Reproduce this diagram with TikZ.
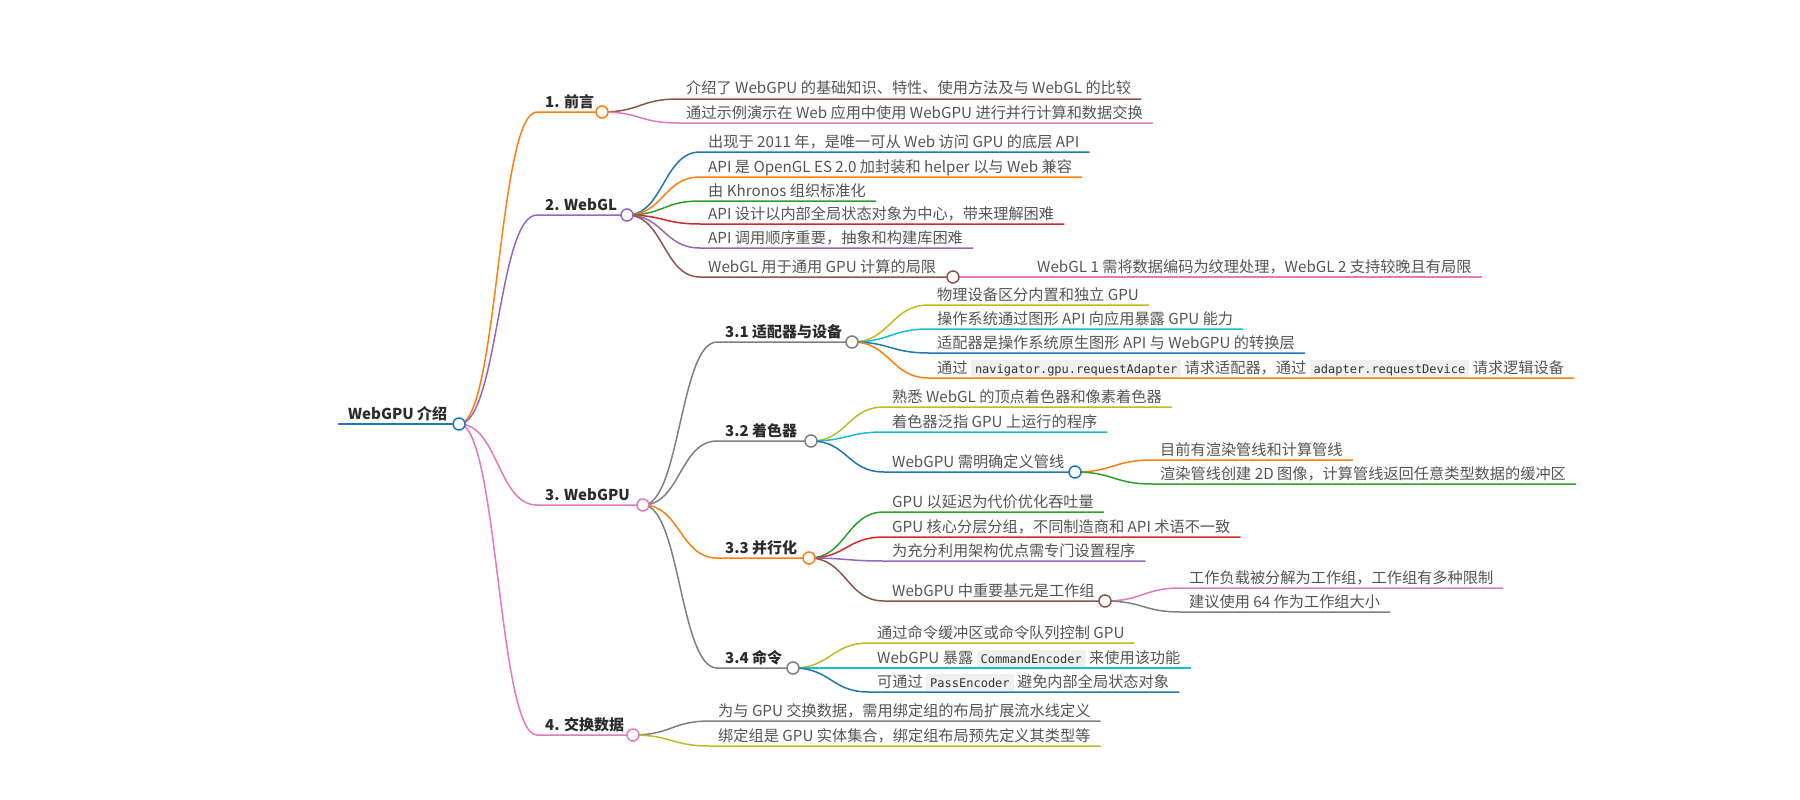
\documentclass[tikz,border=0pt]{standalone}
\usepackage{fontspec}
\setmainfont{Noto Sans CJK SC}
\newfontfamily\codefont{DejaVu Sans Mono}
\usetikzlibrary{calc}
\pgfdeclarelayer{bg}
\pgfdeclarelayer{paper}
\pgfsetlayers{paper,bg,main}
\definecolor{cblue}{HTML}{1F77B4}
\definecolor{corange}{HTML}{FF7F0E}
\definecolor{cgreen}{HTML}{2CA02C}
\definecolor{cred}{HTML}{D62728}
\definecolor{cpurple}{HTML}{9467BD}
\definecolor{cbrown}{HTML}{8C564B}
\definecolor{cpink}{HTML}{E377C2}
\definecolor{cgray}{HTML}{7F7F7F}
\definecolor{colive}{HTML}{BCBD22}
\definecolor{ccyan}{HTML}{17BECF}
\definecolor{leaftext}{HTML}{555555}
\definecolor{labeltext}{HTML}{2B2B2B}
\definecolor{codebg}{HTML}{F0F0F0}
\definecolor{codetext}{HTML}{333333}
\newcommand\leaffont{\fontsize{15.2}{18}\selectfont}
\newcommand\labelfont{\fontsize{15}{18}\selectfont\bfseries}
\newcommand\codesize{\codefont\fontsize{12}{14}\selectfont}
\newcommand\codesnip[1]{\setbox0=\hbox{\codesize #1}%
  \rlap{\color{codebg}\rule[-4pt]{\dimexpr\wd0+8pt\relax}{17pt}}\hspace{4pt}{\codesize\color{codetext}#1}\hspace{4pt}}
% #1 parent circle, #2 child start, #3 end point, #4 colour
\newcommand\mmlink[4]{\draw[edge,#4] let \p1=(#1.center), \p2=(#2) in
  (\p1) .. controls ({0.5*\x1+0.5*\x2},\y1) and ({0.5*\x1+0.5*\x2},\y2) .. (\p2) -- #3;}
\newcommand\leafend[2]{([xshift=10pt]#1.east |- #2)}
\begin{document}
\begin{tikzpicture}[x=1pt,y=-1pt,
  leaf/.style={anchor=base west, inner sep=0pt, text=leaftext, font=\leaffont},
  lbl/.style={anchor=base west, inner sep=0pt, text=labeltext, font=\labelfont},
  dot/.style={circle, draw, fill=white, minimum size=12pt, inner sep=0pt, line width=1.5pt},
  edge/.style={line width=1.5pt},
  rootedge/.style={line width=2.2pt}]
\useasboundingbox (0,0) rectangle (1800,800);
\begin{pgfonlayer}{paper}
\fill[white] (0,0) rectangle (1800,800);
\end{pgfonlayer}

% root
\node[lbl] (Rt) at (348,419) {WebGPU 介绍};
\coordinate (Rs) at (338,424);
\node[dot, draw=cblue] (R) at (459,424) {};

% depth 1
\node[lbl] (At) at (545,107) {1. 前言};
\coordinate (As) at (537,112);
\node[dot, draw=corange] (A) at (602,112) {};
\node[lbl] (Bt) at (545,210) {2. WebGL};
\coordinate (Bs) at (537,215);
\node[dot, draw=cpurple] (B) at (627,215) {};
\node[lbl] (Ct) at (545,500) {3. WebGPU};
\coordinate (Cs) at (537,505);
\node[dot, draw=cpink] (C) at (643,505) {};
\node[lbl] (Dt) at (545,730) {4. 交换数据};
\coordinate (Ds) at (537,735);
\node[dot, draw=cpink] (D) at (633,735) {};

% 1
\node[leaf] (A1t) at (686,94) {介绍了 WebGPU 的基础知识、特性、使用方法及与 WebGL 的比较};
\coordinate (A1s) at (678,99);
\node[leaf] (A2t) at (686,118) {通过示例演示在 Web 应用中使用 WebGPU 进行并行计算和数据交换};
\coordinate (A2s) at (678,123);

% 2
\node[leaf] (B1t) at (708,147) {出现于 2011 年，是唯一可从 Web 访问 GPU 的底层 API};
\coordinate (B1s) at (700,152);
\node[leaf] (B2t) at (708,172) {API 是 OpenGL ES 2.0 加封装和 helper 以与 Web 兼容};
\coordinate (B2s) at (700,177);
\node[leaf] (B3t) at (708,196) {由 Khronos 组织标准化};
\coordinate (B3s) at (700,201);
\node[leaf] (B4t) at (708,219) {API 设计以内部全局状态对象为中心，带来理解困难};
\coordinate (B4s) at (700,224);
\node[leaf] (B5t) at (708,243) {API 调用顺序重要，抽象和构建库困难};
\coordinate (B5s) at (700,248);
\node[leaf] (B6t) at (708,272) {WebGL 用于通用 GPU 计算的局限};
\coordinate (B6s) at (700,277);
\node[dot, draw=cbrown] (B6) at (953,277) {};
\node[leaf] (B61t) at (1037,272) {WebGL 1 需将数据编码为纹理处理，WebGL 2 支持较晚且有局限};
\coordinate (B61s) at (1029,277);

% 3.x
\node[lbl] (C1t) at (725,337) {3.1 适配器与设备};
\coordinate (C1s) at (717,342);
\node[dot, draw=cgray] (C1) at (852,342) {};
\node[lbl] (C2t) at (725,436) {3.2 着色器};
\coordinate (C2s) at (717,441);
\node[dot, draw=cgray] (C2) at (811,441) {};
\node[lbl] (C3t) at (725,553) {3.3 并行化};
\coordinate (C3s) at (717,558);
\node[dot, draw=corange] (C3) at (809,558) {};
\node[lbl] (C4t) at (725,663) {3.4 命令};
\coordinate (C4s) at (717,668);
\node[dot, draw=cgray] (C4) at (793,668) {};

% 3.1
\node[leaf] (C11t) at (937,300) {物理设备区分内置和独立 GPU};
\coordinate (C11s) at (929,305);
\node[leaf] (C12t) at (937,324) {操作系统通过图形 API 向应用暴露 GPU 能力};
\coordinate (C12s) at (929,329);
\node[leaf] (C13t) at (937,348) {适配器是操作系统原生图形 API 与 WebGPU 的转换层};
\coordinate (C13s) at (929,353);
\node[leaf] (C14t) at (937,373) {通过 \codesnip{navigator.gpu.requestAdapter} 请求适配器，通过 \codesnip{adapter.requestDevice} 请求逻辑设备};
\coordinate (C14s) at (929,378);

% 3.2
\node[leaf] (C21t) at (892,402) {熟悉 WebGL 的顶点着色器和像素着色器};
\coordinate (C21s) at (884,407);
\node[leaf] (C22t) at (892,427) {着色器泛指 GPU 上运行的程序};
\coordinate (C22s) at (884,432);
\node[leaf] (C23t) at (892,467) {WebGPU 需明确定义管线};
\coordinate (C23s) at (884,472);
\node[dot, draw=cblue] (C23) at (1075,472) {};
\node[leaf] (C231t) at (1160,455) {目前有渲染管线和计算管线};
\coordinate (C231s) at (1152,460);
\node[leaf] (C232t) at (1160,479) {渲染管线创建 2D 图像，计算管线返回任意类型数据的缓冲区};
\coordinate (C232s) at (1152,484);

% 3.3
\node[leaf] (C31t) at (892,507) {GPU 以延迟为代价优化吞吐量};
\coordinate (C31s) at (884,512);
\node[leaf] (C32t) at (892,532) {GPU 核心分层分组，不同制造商和 API 术语不一致};
\coordinate (C32s) at (884,537);
\node[leaf] (C33t) at (892,556) {为充分利用架构优点需专门设置程序};
\coordinate (C33s) at (884,561);
\node[leaf] (C34t) at (892,596) {WebGPU 中重要基元是工作组};
\coordinate (C34s) at (884,601);
\node[dot, draw=cbrown] (C34) at (1105,601) {};
\node[leaf] (C341t) at (1189,583) {工作负载被分解为工作组，工作组有多种限制};
\coordinate (C341s) at (1181,588);
\node[leaf] (C342t) at (1189,607) {建议使用 64 作为工作组大小};
\coordinate (C342s) at (1181,612);

% 3.4
\node[leaf] (C41t) at (877,638) {通过命令缓冲区或命令队列控制 GPU};
\coordinate (C41s) at (869,643);
\node[leaf] (C42t) at (877,663) {WebGPU 暴露 \codesnip{CommandEncoder} 来使用该功能};
\coordinate (C42s) at (869,668);
\node[leaf] (C43t) at (877,687) {可通过 \codesnip{PassEncoder} 避免内部全局状态对象};
\coordinate (C43s) at (869,692);

% 4
\node[leaf] (D1t) at (718,716) {为与 GPU 交换数据，需用绑定组的布局扩展流水线定义};
\coordinate (D1s) at (710,721);
\node[leaf] (D2t) at (718,741) {绑定组是 GPU 实体集合，绑定组布局预先定义其类型等};
\coordinate (D2s) at (710,746);

\begin{pgfonlayer}{bg}
\draw[rootedge, cblue] (Rs) -- (R.center);
\mmlink{R}{As}{(A.center)}{corange}
\mmlink{R}{Bs}{(B.center)}{cpurple}
\mmlink{R}{Cs}{(C.center)}{cpink}
\mmlink{R}{Ds}{(D.center)}{cpink}

\mmlink{A}{A1s}{\leafend{A1t}{A1s}}{cbrown}
\mmlink{A}{A2s}{\leafend{A2t}{A2s}}{cpink}

\mmlink{B}{B1s}{\leafend{B1t}{B1s}}{cblue}
\mmlink{B}{B2s}{\leafend{B2t}{B2s}}{corange}
\mmlink{B}{B3s}{\leafend{B3t}{B3s}}{cgreen}
\mmlink{B}{B4s}{\leafend{B4t}{B4s}}{cred}
\mmlink{B}{B5s}{\leafend{B5t}{B5s}}{cpurple}
\mmlink{B}{B6s}{(B6.center)}{cbrown}
\mmlink{B6}{B61s}{\leafend{B61t}{B61s}}{cpink}

\mmlink{C}{C1s}{(C1.center)}{cgray}
\mmlink{C}{C2s}{(C2.center)}{cgray}
\mmlink{C}{C3s}{(C3.center)}{corange}
\mmlink{C}{C4s}{(C4.center)}{cgray}

\mmlink{C1}{C11s}{\leafend{C11t}{C11s}}{colive}
\mmlink{C1}{C12s}{\leafend{C12t}{C12s}}{ccyan}
\mmlink{C1}{C13s}{\leafend{C13t}{C13s}}{cblue}
\mmlink{C1}{C14s}{\leafend{C14t}{C14s}}{corange}

\mmlink{C2}{C21s}{\leafend{C21t}{C21s}}{colive}
\mmlink{C2}{C22s}{\leafend{C22t}{C22s}}{ccyan}
\mmlink{C2}{C23s}{(C23.center)}{cblue}
\mmlink{C23}{C231s}{\leafend{C231t}{C231s}}{corange}
\mmlink{C23}{C232s}{\leafend{C232t}{C232s}}{cgreen}

\mmlink{C3}{C31s}{\leafend{C31t}{C31s}}{cgreen}
\mmlink{C3}{C32s}{\leafend{C32t}{C32s}}{cred}
\mmlink{C3}{C33s}{\leafend{C33t}{C33s}}{cpurple}
\mmlink{C3}{C34s}{(C34.center)}{cbrown}
\mmlink{C34}{C341s}{\leafend{C341t}{C341s}}{cpink}
\mmlink{C34}{C342s}{\leafend{C342t}{C342s}}{cgray}

\mmlink{C4}{C41s}{\leafend{C41t}{C41s}}{colive}
\mmlink{C4}{C42s}{\leafend{C42t}{C42s}}{ccyan}
\mmlink{C4}{C43s}{\leafend{C43t}{C43s}}{cblue}

\mmlink{D}{D1s}{\leafend{D1t}{D1s}}{cgray}
\mmlink{D}{D2s}{\leafend{D2t}{D2s}}{colive}
\end{pgfonlayer}
\end{tikzpicture}
\end{document}
